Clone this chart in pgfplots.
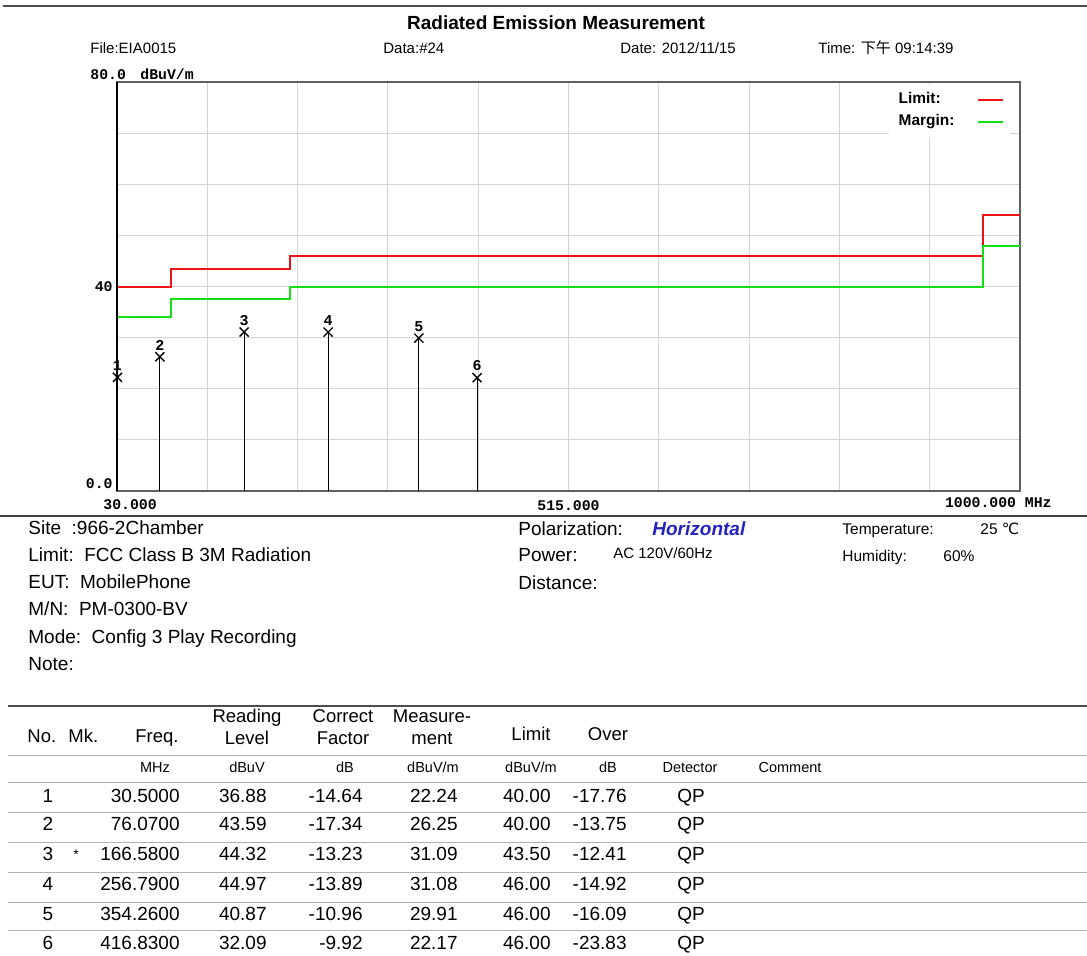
\documentclass[border=0pt]{standalone}
\usepackage{fontspec}
\setmainfont{Liberation Sans}
\newfontfamily\cjk{Noto Sans CJK TC}
\newfontfamily\symf{DejaVu Sans}
\newfontfamily\lbl{Liberation Mono}
\usepackage{pgfplots}
\pgfplotsset{compat=1.18}
\newcommand\fs[1]{\fontsize{#1}{#1}\selectfont}
\definecolor{limred}{RGB}{235,20,20}
\definecolor{margreen}{RGB}{20,225,20}
\definecolor{gridgray}{RGB}{212,212,212}
\definecolor{framegray}{RGB}{95,95,95}
\definecolor{polblue}{RGB}{35,35,190}

\begin{document}
\begin{tikzpicture}[x=0.5pt, y=-0.5pt,
  t/.style={inner sep=0pt, text height=0.72em, text depth=0pt},
  lb/.style={t, font=\lbl\bfseries\fs{7.4}}]
\useasboundingbox (0,0) rectangle (1087,955);
\coordinate (origin) at (117,491);

% header
\draw[black!70, line width=0.75pt] (3,6) -- (1087,6);
\node[t, font=\bfseries\fs{9.5}] at (556,22) {Radiated Emission Measurement};
\node[t, anchor=west, font=\fs{7.5}] at (90,46) {File:EIA0015};
\node[t, anchor=west, font=\fs{7.5}] at (383,46) {Data:\#24};
\node[t, anchor=west, font=\fs{7.5}] at (620,46) {Date: 2012/11/15};
\node[t, anchor=west, font=\fs{7.5}] at (818,46) {Time: {\cjk 下午} 09:14:39};

\begin{axis}[at={(origin)}, anchor=south west, scale only axis,
  width=451.5pt, height=204.5pt,
  xmin=30, xmax=1000, ymin=0, ymax=80,
  xtick={30,127,...,1000}, ytick={0,10,...,80},
  xticklabels={}, yticklabels={},
  major tick length=0pt,
  grid=major, grid style={gridgray, line width=0.5pt},
  axis line style={framegray, line width=0.75pt},
  clip=false,
  legend plot pos=right,
  legend cell align=left,
  legend style={at={(1,1)}, anchor=north east, xshift=-5pt, yshift=-1pt,
    draw=none, fill=white, font=\bfseries\fs{7.75}, column sep=9pt, row sep=0pt},
  legend image code/.code={\draw[#1] (0pt,0pt) -- (12.5pt,0pt);},
]
\addplot[const plot, limred, line width=1pt] coordinates {
  (30,40) (88,43.5) (216,46) (960,54) (1000,54)};
\addlegendentry{Limit:}
\addplot[const plot, margreen, line width=1pt] coordinates {
  (30,34) (88,37.5) (216,40) (960,48) (1000,48)};
\addlegendentry{Margin:}
\addplot[forget plot, ycomb, black, line width=0.6pt, mark=x, mark size=3.2pt,
  mark options={line width=0.7pt},
  nodes near coords, point meta=explicit symbolic,
  every node near coord/.append style={anchor=south, inner sep=0pt, yshift=3pt,
    font=\lbl\bfseries\fs{7.5}, text height=0.65em, text depth=0pt}]
  table[x=f, y=lvl, meta=mk] {
f      lvl   mk
30.50  22.24 1
76.07  26.25 2
166.58 31.09 3
256.79 31.08 4
354.26 29.91 5
416.83 22.17 6
};
\end{axis}
\draw[black, line width=0.9pt] (117,82) -- (117,491);

% axis labels
\node[lb, anchor=west] at (90,72) {80.0};
\node[lb, anchor=west] at (140,72) {dBuV/m};
\node[lb, anchor=east] at (113,284) {40};
\node[lb, anchor=east] at (113,481) {0.0};
\node[lb, anchor=west] at (103,502) {30.000};
\node[lb, anchor=west] at (537,503) {515.000};
\node[lb, anchor=east] at (1052,500) {1000.000 MHz};
\draw[black!75, line width=1pt] (0,516) -- (1087,516);

% info block
\begin{scope}[every node/.style={t, anchor=west, font=\fs{9.5}}]
\node at (28,527) {Site\ \ :966-2Chamber};
\node at (28,554) {Limit:\ \ FCC Class B 3M Radiation};
\node at (28,581) {EUT:\ \ MobilePhone};
\node at (28,608) {M/N:\ \ PM-0300-BV};
\node at (28,636) {Mode:\ \ Config 3 Play Recording};
\node at (28,663) {Note:};
\node at (518,528) {Polarization:};
\node[font=\fs{9.5}\bfseries\itshape, text=polblue] at (652,528) {Horizontal};
\node at (518,554) {Power:};
\node[font=\fs{7.5}] at (613,551) {AC 120V/60Hz};
\node at (518,582) {Distance:};
\node[font=\fs{7.75}] at (842,527) {Temperature:};
\node[font=\fs{7.75}] at (980,527) {25 {\symf ℃}};
\node[font=\fs{7.75}] at (842,554) {Humidity:};
\node[font=\fs{7.75}] at (943,554) {60\%};
\end{scope}

% table
\draw[black!70, line width=0.75pt] (8,706) -- (1087,706);
\foreach \yy in {755,782,812,842,872,902,930}
  \draw[black!30, line width=0.5pt] (8,\yy) -- (1087,\yy);
\begin{scope}[every node/.style={t, font=\fs{9.25}}]
\node[anchor=west] at (27,735) {No.};
\node[anchor=west] at (68,735) {Mk.};
\node at (157,735) {Freq.};
\node at (247,715) {Reading};
\node at (247,737) {Level};
\node at (343,715) {Correct};
\node at (343,737) {Factor};
\node at (432,715) {Measure-};
\node at (432,737) {ment};
\node at (531,733) {Limit};
\node at (608,733) {Over};
\end{scope}
\begin{scope}[every node/.style={t, font=\fs{7.25}}]
\node at (155,765) {MHz};
\node at (247,765) {dBuV};
\node at (345,765) {dB};
\node at (433,765) {dBuV/m};
\node at (531,765) {dBuV/m};
\node at (608,765) {dB};
\node at (690,765) {Detector};
\node at (790,765) {Comment};
\end{scope}
\begin{scope}[every node/.style={t, font=\fs{9.5}}]
\foreach \yy/\n/\fr/\rd/\cf/\me/\li/\ov in {
  795/1/30.5000/36.88/-14.64/22.24/40.00/-17.76,
  823/2/76.0700/43.59/-17.34/26.25/40.00/-13.75,
  853/3/166.5800/44.32/-13.23/31.09/43.50/-12.41,
  883/4/256.7900/44.97/-13.89/31.08/46.00/-14.92,
  913/5/354.2600/40.87/-10.96/29.91/46.00/-16.09,
  942/6/416.8300/32.09/-9.92/22.17/46.00/-23.83}{
  \node at (48,\yy) {\n};
  \node[anchor=east] at (180,\yy) {\fr};
  \node[anchor=east] at (267,\yy) {\rd};
  \node[anchor=east] at (363,\yy) {\cf};
  \node[anchor=east] at (458,\yy) {\me};
  \node[anchor=east] at (551,\yy) {\li};
  \node[anchor=east] at (627,\yy) {\ov};
  \node at (691,\yy) {QP};
}
\node[font=\fs{7}] at (76,852) {*};
\end{scope}
\end{tikzpicture}
\end{document}
